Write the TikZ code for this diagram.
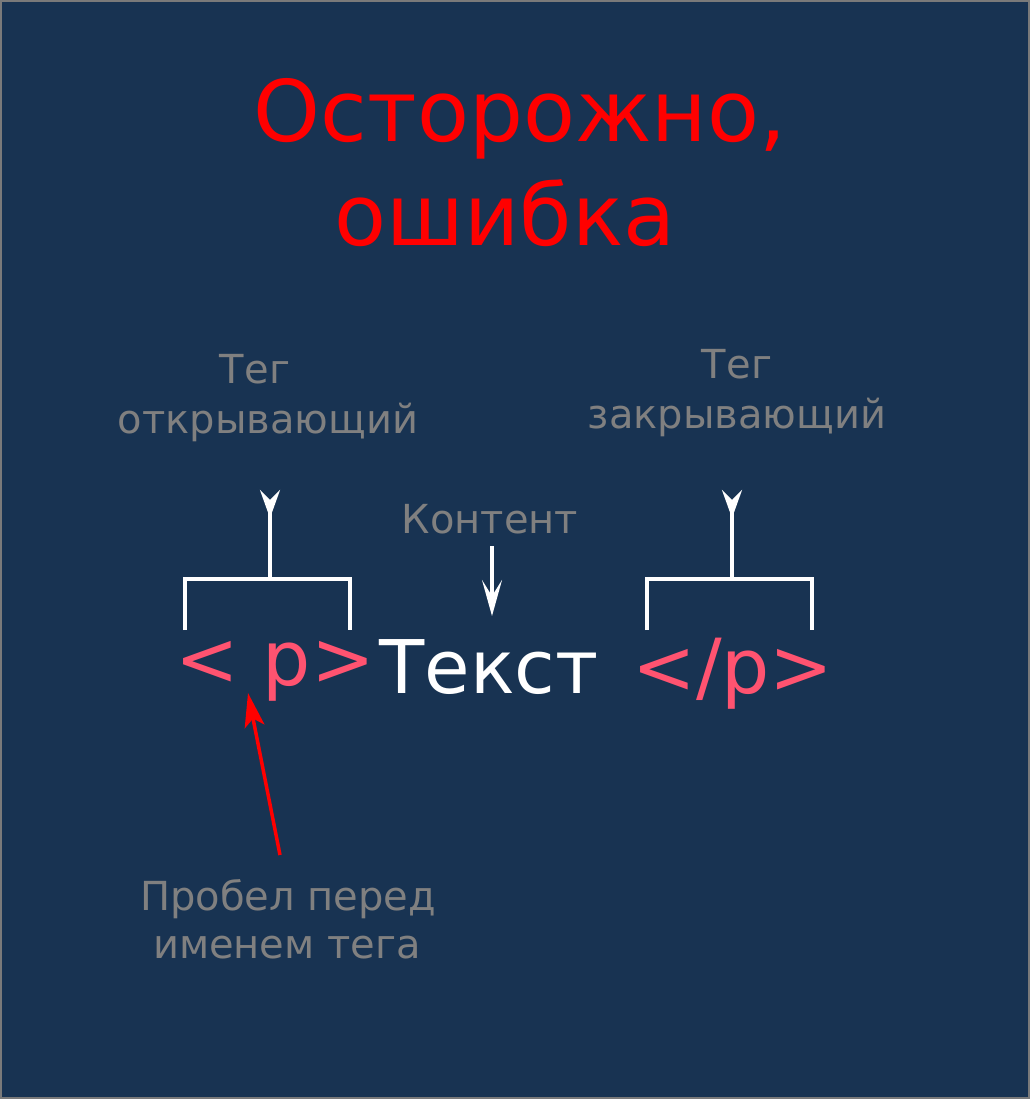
\documentclass[tikz,border=0pt]{standalone}
\usepackage{fontspec}
\setmainfont{DejaVu Sans}
\usetikzlibrary{arrows.meta}
\definecolor{bg}{HTML}{183352}
\definecolor{framegray}{HTML}{7A7A7A}
\definecolor{labelgray}{HTML}{808080}
\definecolor{tagpink}{HTML}{FF5370}
\definecolor{titlered}{HTML}{FF0000}
\begin{document}
\begin{tikzpicture}[x=1pt,y=-1pt,
  title/.style={text=titlered,font=\fontsize{85}{100}\selectfont,anchor=base,inner sep=0pt},
  lbl/.style={text=labelgray,font=\fontsize{40}{46}\selectfont,anchor=base,inner sep=0pt},
  tag/.style={text=tagpink,font=\fontsize{76}{88}\selectfont,anchor=base,inner sep=0pt},
  body/.style={text=white,font=\fontsize{74}{86}\selectfont,anchor=base,inner sep=0pt},
  bracket/.style={draw=white,line width=3.5pt},
  uptip/.style={draw=white,line width=3.5pt,{Stealth[reversed,length=28pt,width=20pt,inset=10pt]}-},
  downarrow/.style={draw=white,line width=3.5pt,-{Stealth[length=36pt,width=20pt,inset=16pt]}},
  redarrow/.style={draw=titlered,line width=3.5pt,-{Stealth[length=34pt,width=20pt,inset=8pt]}}]
\useasboundingbox (0,0) rectangle (1030,1099);
\draw[fill=bg,draw=framegray,line width=2pt] (1,1) rectangle (1029,1098);

\node[title] (t1) at (520,142) {Осторожно,};
\node[title] (t2) at (505,246) {ошибка};

\node[lbl] (ol1) at (255,383) {Тег};
\node[lbl] (ol2) at (268,433) {открывающий};
\node[lbl] (cl1) at (737,378) {Тег};
\node[lbl] (cl2) at (737,428) {закрывающий};
\node[lbl] (cont) at (490,533) {Контент};
\node[lbl] (sp1) at (288,910) {Пробел перед};
\node[lbl] (sp2) at (287,958) {именем тега};

\node[tag] (open) at (275,685) {<\ p>};
\node[body] (txt) at (489,693) {Текст};
\node[tag] (close) at (733,693) {</p>};

% left bracket
\coordinate (la) at (185,630);
\coordinate (lb) at (185,579);
\coordinate (lc) at (350,579);
\coordinate (ld) at (350,630);
\coordinate (lm) at (270,579);
\coordinate (lt) at (270,490);
\draw[bracket] (la) -- (lb) -- (lc) -- (ld);
\draw[uptip] (lt) -- (lm);

% right bracket
\coordinate (ra) at (647,630);
\coordinate (rb) at (647,579);
\coordinate (rc) at (812,579);
\coordinate (rd) at (812,630);
\coordinate (rm) at (732,579);
\coordinate (rt) at (732,490);
\draw[bracket] (ra) -- (rb) -- (rc) -- (rd);
\draw[uptip] (rt) -- (rm);

% content arrow
\coordinate (cs) at (492,546);
\coordinate (ce) at (492,616);
\draw[downarrow] (cs) -- (ce);

% red arrow
\coordinate (rs) at (280,855);
\coordinate (re) at (248,693);
\draw[redarrow] (rs) -- (re);
\end{tikzpicture}
\end{document}
